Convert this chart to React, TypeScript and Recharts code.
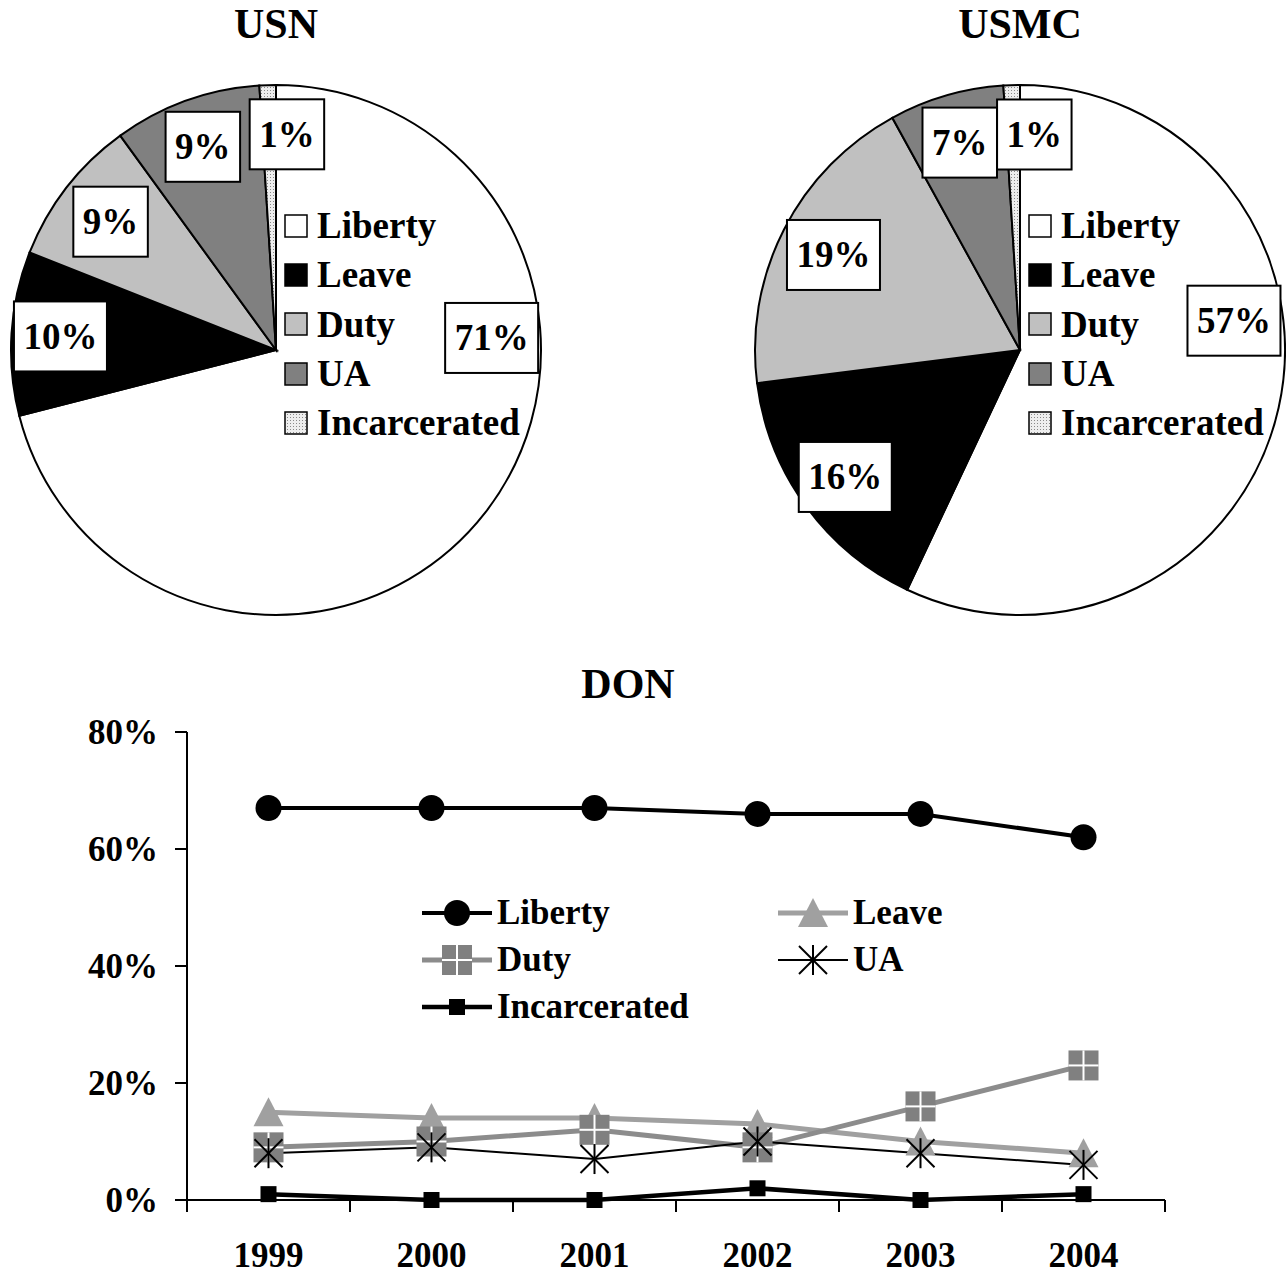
import React from "react";
import { PieChart, Pie, Cell, Legend, LineChart, Line, XAxis, YAxis } from "recharts";

const FONT = '"Liberation Serif", "Times New Roman", serif';

// Pie shares (%), in slice order clockwise from 12 o'clock
const CATEGORIES = ["Liberty", "Leave", "Duty", "UA", "Incarcerated"];
const USN_SHARE = [71, 10, 9, 9, 1];
const USMC_SHARE = [57, 16, 19, 7, 1];

// DON trend by year (%)
const YEARS = ["1999", "2000", "2001", "2002", "2003", "2004"];
const LIBERTY = [67, 67, 67, 66, 66, 62];
const LEAVE = [15, 14, 14, 13, 10, 8];
const DUTY = [9, 10, 12, 9, 16, 23];
const UA = [8, 9, 7, 10, 8, 6];
const INCARCERATED = [1, 0, 0, 2, 0, 1];
const Y_TICKS = [0, 20, 40, 60, 80];

const SLICE_FILL = ["#ffffff", "#000000", "#c0c0c0", "#808080", "url(#dots)"];

const PIE_R = 265;
const LABEL_FS = 37;
const HALF_STEP = 81.5; // half a category step on the year axis

const bold = { fontFamily: FONT, fontWeight: "bold" as const, color: "#000" };

// labelAt: slice index -> label angle (deg, clockwise from 12 o'clock) where a label is moved off its mid-angle
const SliceLabel = (labelAt: Record<number, number>) => (props: any) => {
  const { cx, cy, midAngle, outerRadius, value, index } = props;
  const moved = labelAt[index] !== undefined;
  const clock = moved ? labelAt[index] : 90 - midAngle;
  const r = outerRadius * (index === 2 ? 0.79 : 0.815);
  const rad = (clock * Math.PI) / 180;
  const x = cx + r * Math.sin(rad);
  const y = cy - r * Math.cos(rad);
  const w = 19 + LABEL_FS * (0.5 * String(value).length + 1);
  const h = 70;
  return (
    <g key={`lbl-${index}`}>
      <rect x={x - w / 2} y={y - h / 2} width={w} height={h} fill="#fff" stroke="#000" strokeWidth={2} />
      <text x={x} y={y + 12.5} textAnchor="middle" fontSize={LABEL_FS} fontWeight="bold" fontFamily={FONT} fill="#000">
        {`${value}%`}
      </text>
    </g>
  );
};

const PieLegend = () => (
  <div>
    {CATEGORIES.map((name, i) => (
      <div key={name} style={{ display: "flex", alignItems: "center", height: 49.3 }}>
        <svg width={24} height={24} style={{ display: "block" }}>
          <rect x={1} y={1} width={22} height={22} fill={SLICE_FILL[i]} stroke="#000" strokeWidth={1.5} />
        </svg>
        <span style={{ ...bold, marginLeft: 9, fontSize: LABEL_FS, lineHeight: 1 }}>{name}</span>
      </div>
    ))}
  </div>
);

function SharePie({ title, shares, left, width, labelAt }: any) {
  const data = CATEGORIES.map((name, i) => ({ name, value: shares[i] }));
  return (
    <div style={{ position: "absolute", left, top: 0, width, height: 640 }}>
      <div style={{ ...bold, position: "absolute", left: 0, width: 552, top: 3, textAlign: "center", fontSize: 42, lineHeight: 1 }}>
        {title}
      </div>
      <PieChart width={width} height={640} margin={{ top: 0, right: 0, bottom: 0, left: 0 }}>
        <defs>
          <pattern id="dots" width={3} height={3} patternUnits="userSpaceOnUse">
            <rect width={3} height={3} fill="#eeeeee" />
            <rect width={1} height={1} fill="#8a8a8a" />
          </pattern>
        </defs>
        <Pie
          data={data}
          dataKey="value"
          nameKey="name"
          cx={276}
          cy={350}
          outerRadius={PIE_R}
          startAngle={90}
          endAngle={-270}
          stroke="#000"
          strokeWidth={2}
          label={SliceLabel(labelAt)}
          labelLine={false}
          isAnimationActive={false}
        >
          {data.map((d, i) => (
            <Cell key={d.name} fill={SLICE_FILL[i]} />
          ))}
        </Pie>
        <Legend
          layout="horizontal"
          verticalAlign="middle"
          content={PieLegend}
          wrapperStyle={{ left: 284, top: 201, width: 260 }}
        />
      </PieChart>
    </div>
  );
}

// series markers, shared by the plot and its legend
function Marker({ kind, x, y }: { kind: string; x: number; y: number }) {
  switch (kind) {
    case "Liberty":
      return <circle cx={x} cy={y} r={13} fill="#000" />;
    case "Leave":
      return <polygon points={`${x},${y - 15} ${x - 15},${y + 14} ${x + 15},${y + 14}`} fill="#a0a0a0" />;
    case "Duty":
      return (
        <g>
          <rect x={x - 15} y={y - 15} width={30} height={30} fill="#808080" />
          <line x1={x} y1={y - 15} x2={x} y2={y + 15} stroke="#fff" strokeWidth={2} />
          <line x1={x - 15} y1={y} x2={x + 15} y2={y} stroke="#fff" strokeWidth={2} />
        </g>
      );
    case "UA":
      return (
        <g stroke="#000" strokeWidth={2}>
          <line x1={x} y1={y - 15} x2={x} y2={y + 15} />
          <line x1={x - 14} y1={y - 14} x2={x + 14} y2={y + 14} />
          <line x1={x - 14} y1={y + 14} x2={x + 14} y2={y - 14} />
        </g>
      );
    default:
      return <rect x={x - 8} y={y - 8} width={16} height={16} fill="#000" />;
  }
}

const SERIES = [
  { key: "Liberty", values: LIBERTY, stroke: "#000000", width: 4 },
  { key: "Leave", values: LEAVE, stroke: "#a0a0a0", width: 5 },
  { key: "Duty", values: DUTY, stroke: "#8c8c8c", width: 5 },
  { key: "UA", values: UA, stroke: "#000000", width: 2 },
  { key: "Incarcerated", values: INCARCERATED, stroke: "#000000", width: 4.5 },
];

const rows = YEARS.map((year, i) => {
  const row: any = { year };
  SERIES.forEach((s) => (row[s.key] = s.values[i]));
  return row;
});

const YearTick = (props: any) => {
  const { x, y, payload, index, visibleTicksCount } = props;
  return (
    <g>
      <line x1={x - HALF_STEP} y1={y} x2={x - HALF_STEP} y2={y + 12} stroke="#000" strokeWidth={2} />
      {index === visibleTicksCount - 1 && (
        <line x1={x + HALF_STEP} y1={y} x2={x + HALF_STEP} y2={y + 12} stroke="#000" strokeWidth={2} />
      )}
      <text x={x} y={y + 67} textAnchor="middle" fontSize={35} fontWeight="bold" fontFamily={FONT} fill="#000">
        {payload.value}
      </text>
    </g>
  );
};

const LineLegend = () => (
  <div style={{ display: "grid", gridTemplateColumns: "356px 300px" }}>
    {SERIES.map((s) => (
      <div key={s.key} style={{ display: "flex", alignItems: "center", height: 47 }}>
        <svg width={70} height={40} style={{ display: "block" }}>
          <line x1={0} y1={20} x2={70} y2={20} stroke={s.stroke} strokeWidth={s.width} />
          <Marker kind={s.key} x={35} y={20} />
        </svg>
        <span style={{ ...bold, marginLeft: 5, fontSize: 35, lineHeight: 1 }}>{s.key}</span>
      </div>
    ))}
  </div>
);

function TrendChart() {
  return (
    <div style={{ position: "absolute", left: 0, top: 700, width: 1286, height: 574 }}>
      <LineChart width={1286} height={574} data={rows} margin={{ top: 32, right: 121, bottom: 0, left: 0 }}>
        <XAxis
          dataKey="year"
          height={74}
          padding={{ left: HALF_STEP, right: HALF_STEP }}
          tickLine={false}
          tickSize={0}
          tickMargin={0}
          axisLine={{ stroke: "#000", strokeWidth: 2 }}
          tick={YearTick}
          interval={0}
        />
        <YAxis
          width={187}
          domain={[0, 80]}
          ticks={Y_TICKS}
          tickFormatter={(v) => `${v}%`}
          tickSize={12}
          tickMargin={17}
          axisLine={{ stroke: "#000", strokeWidth: 2 }}
          tickLine={{ stroke: "#000", strokeWidth: 2 }}
          tick={{ fontSize: 35, fontWeight: "bold", fontFamily: FONT, fill: "#000" }}
        />
        {SERIES.map((s) => (
          <Line
            key={s.key}
            dataKey={s.key}
            stroke={s.stroke}
            strokeWidth={s.width}
            dot={(p: any) => <Marker key={`${s.key}-${p.index}`} kind={s.key} x={p.cx} y={p.cy} />}
            activeDot={false}
            isAnimationActive={false}
          />
        ))}
        <Legend
          layout="horizontal"
          verticalAlign="middle"
          content={LineLegend}
          wrapperStyle={{ left: 422, top: 189, width: 700 }}
        />
      </LineChart>
    </div>
  );
}

export default function App() {
  return (
    <div style={{ position: "absolute", left: 0, top: 0, width: 1286, height: 1274, overflow: "hidden", background: "#fff" }}>
      <SharePie title="USN" shares={USN_SHARE} left={0} width={560} labelAt={{ 0: 86.8, 4: 2.9 }} />
      <SharePie title="USMC" shares={USMC_SHARE} left={744} width={542} labelAt={{ 0: 82.2, 4: 3.8 }} />
      <div style={{ ...bold, position: "absolute", left: 428, width: 400, top: 663, textAlign: "center", fontSize: 42, lineHeight: 1 }}>
        DON
      </div>
      <TrendChart />
    </div>
  );
}
